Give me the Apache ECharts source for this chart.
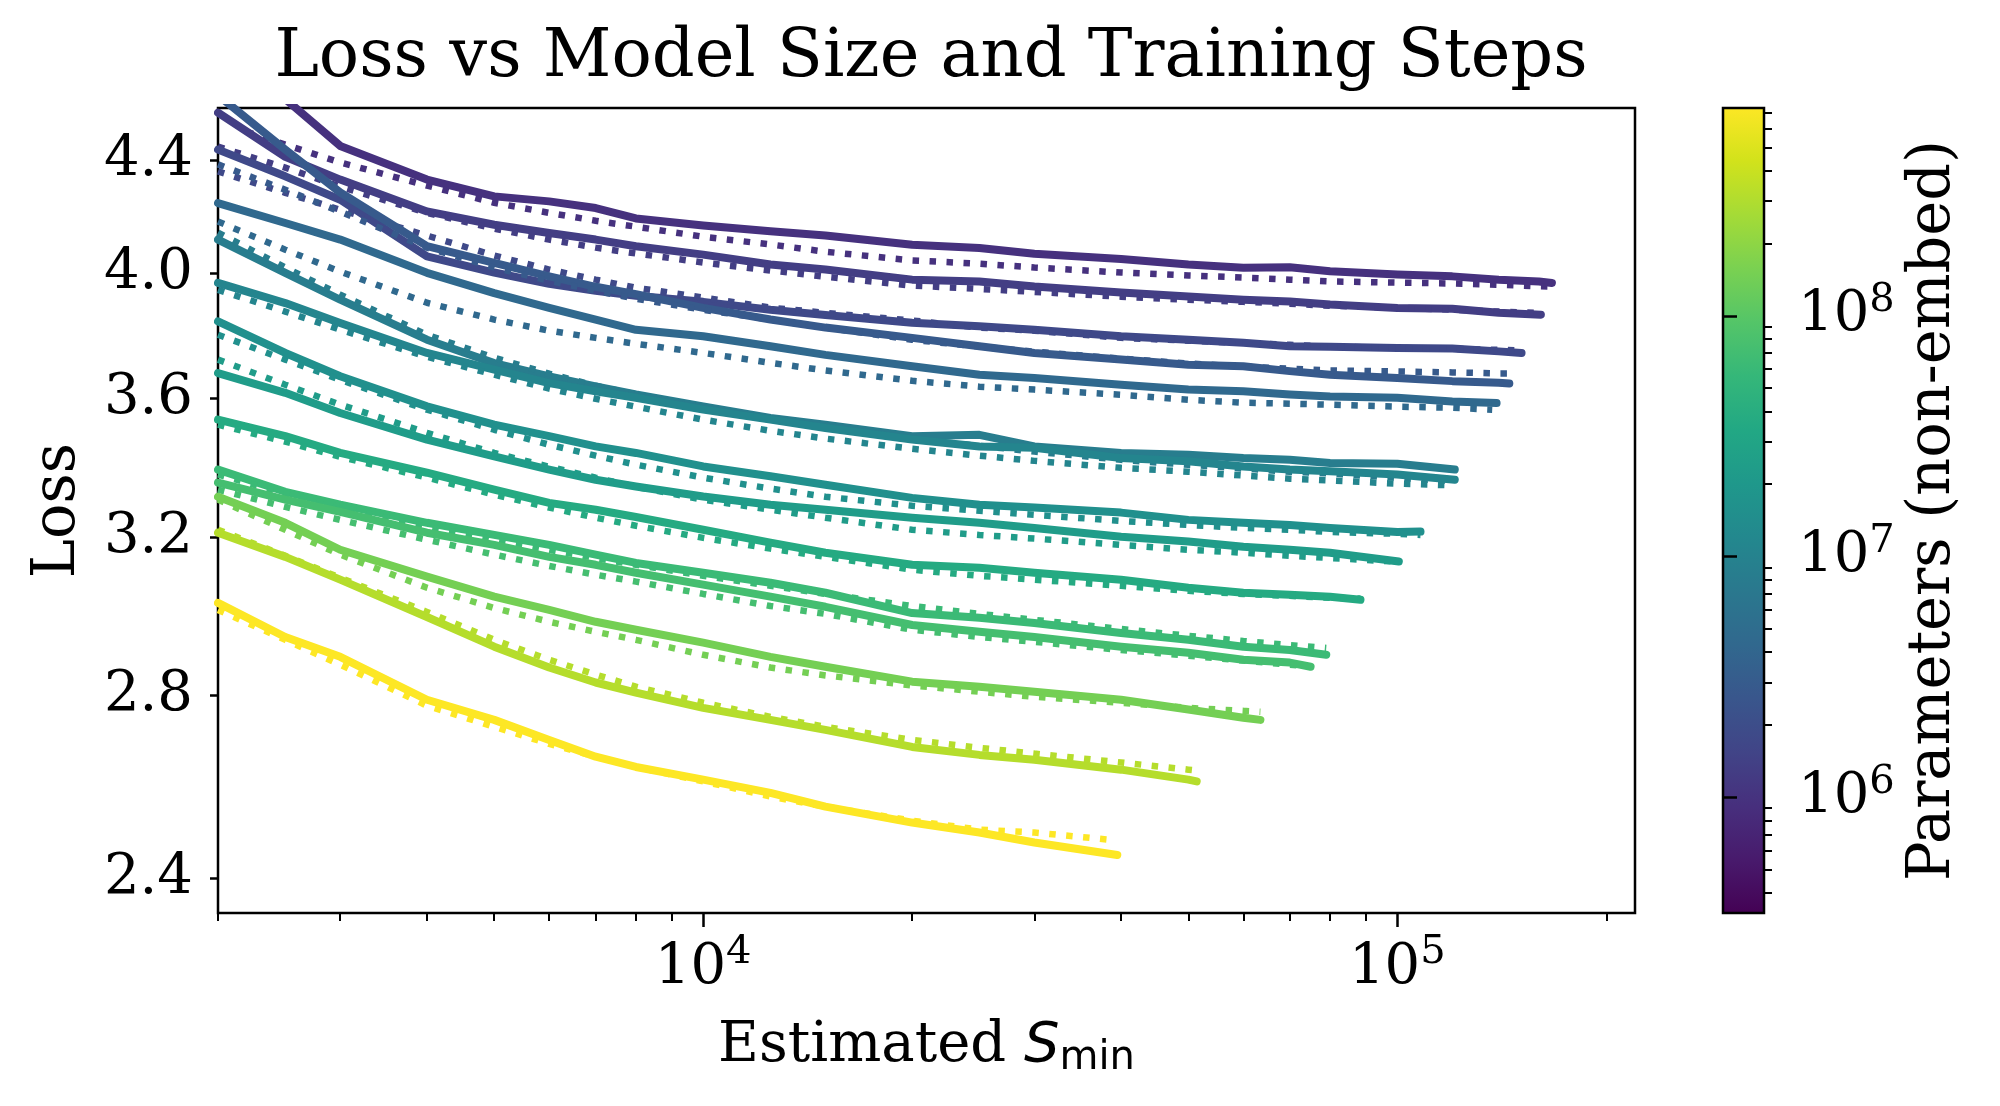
<!DOCTYPE html>
<html><head><meta charset="utf-8">
<script src="https://cdn.jsdelivr.net/npm/echarts@6/dist/echarts.min.js"></script>
<style>html,body{margin:0;padding:0;background:#fff}#c{width:2000px;height:1106px}</style>
</head><body><div id="c"></div>
<script>
// ---------------- data ----------------
const steps = [2000,2500,3000,4000,5000,6000,7000,8000,10000,12500,15000,20000,25000,30000,40000,50000,60000,70000,80000,100000,120000,140000,160000];
const params = [9.7e5,1.32e6,1.8e6,2.85e6,4.5e6,8.4e6,1.1e7,1.55e7,2.29e7,3.63e7,6.2e7,7.3e7,1.45e8,3.14e8,7.3e8];
const cbarRange = [3.3e5, 7.3e8];
const xMajor = [1e4, 1e5];
const xMinor = [2000,3000,4000,5000,6000,7000,8000,9000,20000,30000,40000,50000,60000,70000,80000,90000,200000];
const yTicks = [2.4, 2.8, 3.2, 3.6, 4.0, 4.4];
const cbMajor = [1e6, 1e7, 1e8];
const cbMinor = [4e5,5e5,6e5,7e5,8e5,9e5,2e6,3e6,4e6,5e6,6e6,7e6,8e6,9e6,2e7,3e7,4e7,5e7,6e7,7e7,8e7,9e7,2e8,3e8,4e8,5e8,6e8,7e8];

// observed loss curves (aligned with steps, null = no data)
const run01 = [null,4.635,4.455,4.330,4.269,4.251,4.227,4.190,4.165,4.145,4.130,4.098,4.087,4.067,4.049,4.030,4.019,4.021,4.007,3.996,3.990,3.979,3.973];
const run02 = [4.582,4.414,4.330,4.215,4.168,4.139,4.116,4.093,4.064,4.030,4.013,3.979,3.973,3.956,3.936,3.923,3.912,3.906,3.896,3.885,3.882,3.869,null];
const run03 = [4.441,4.342,4.257,4.058,4.003,3.965,3.942,3.925,3.905,3.879,3.862,3.837,3.825,3.814,3.793,3.782,3.772,3.761,3.760,3.756,3.754,3.745,null];
const run04 = [4.65,4.441,4.283,4.093,4.036,3.990,3.955,3.930,3.885,3.847,3.821,3.788,3.761,3.740,3.719,3.703,3.698,3.683,3.672,3.662,3.652,3.647,null];
const run05 = [4.245,4.174,4.116,4.002,3.934,3.885,3.847,3.814,3.793,3.761,3.734,3.698,3.672,3.662,3.641,3.626,3.621,3.611,3.605,3.601,3.590,null,null];
const run06 = [4.116,4.002,3.912,3.782,3.708,3.667,3.636,3.611,3.575,3.540,3.520,3.486,3.490,3.456,3.437,3.432,3.422,3.417,3.408,3.406,null,null,null];
const run07 = [3.968,3.901,3.836,3.740,3.688,3.646,3.621,3.601,3.565,3.535,3.510,3.476,3.456,3.452,3.422,3.413,3.398,3.389,3.384,3.375,null,null,null];
const run08 = [3.841,3.740,3.667,3.575,3.520,3.486,3.456,3.437,3.398,3.370,3.346,3.309,3.290,3.282,3.268,3.248,3.240,3.234,3.226,3.215,null,null,null];
const run09 = [3.677,3.616,3.555,3.476,3.427,3.389,3.360,3.341,3.313,3.290,3.276,3.254,3.240,3.226,3.202,3.189,3.175,3.167,3.159,null,null,null,null];
const run10 = [3.535,3.486,3.437,3.380,3.332,3.295,3.276,3.256,3.221,3.186,3.159,3.127,3.119,3.106,3.088,3.067,3.054,3.049,3.044,null,null,null,null];
const run11 = [3.389,3.326,3.290,3.240,3.207,3.180,3.154,3.132,3.106,3.080,3.054,3.002,2.990,2.977,2.952,2.935,2.918,2.910,null,null,null,null,null];
const run12 = [3.352,3.304,3.270,3.213,3.180,3.148,3.127,3.106,3.075,3.044,3.018,2.972,2.955,2.942,2.918,2.903,2.886,2.879,null,null,null,null,null];
const run13 = [3.312,3.240,3.167,3.096,3.044,3.010,2.980,2.960,2.928,2.893,2.869,2.833,2.821,2.809,2.790,2.767,2.748,null,null,null,null,null,null];
const run14 = [3.213,3.148,3.088,2.992,2.918,2.867,2.831,2.807,2.771,2.743,2.720,2.681,2.663,2.652,2.630,2.608,null,null,null,null,null,null,null];
const run15 = [3.028,2.942,2.893,2.790,2.743,2.697,2.659,2.636,2.608,2.579,2.549,2.515,2.494,2.473,null,null,null,null,null,null,null,null,null];
const runEnd = [[167000,3.968],[161000,3.863],[151000,3.740],[145000,3.645],[139000,3.585],[121000,3.389],[121000,3.360],[108000,3.216],[100500,3.136],[88500,3.036],[79000,2.898],[75000,2.869],[63500,2.743],[51400,2.604],[39500,2.447]];

// fitted curves (dotted)
const fit01 = [null,4.460,4.393,4.308,4.246,4.210,4.182,4.161,4.126,4.099,4.074,4.044,4.033,4.020,4.003,3.993,3.986,3.979,3.973,3.969,3.966,3.962,3.957];
const fit02 = [4.452,4.374,4.304,4.210,4.154,4.116,4.088,4.068,4.037,4.010,3.989,3.959,3.948,3.938,3.922,3.912,3.905,3.899,3.892,3.886,3.879,3.873,null];
const fit03 = [4.360,4.282,4.221,4.130,4.061,4.013,3.979,3.952,3.919,3.886,3.869,3.844,3.821,3.811,3.788,3.779,3.772,3.766,3.760,3.756,3.753,3.750,null];
const fit04 = [4.386,4.293,4.214,4.088,4.020,3.975,3.942,3.915,3.879,3.847,3.821,3.782,3.760,3.744,3.722,3.707,3.697,3.691,3.685,3.682,3.679,3.676,null];
const fit05 = [4.179,4.081,4.006,3.902,3.847,3.811,3.788,3.769,3.740,3.709,3.685,3.653,3.635,3.626,3.610,3.595,3.586,3.583,3.580,3.574,3.571,null,null];
const fit06 = [4.140,4.020,3.929,3.798,3.725,3.675,3.638,3.611,3.571,3.535,3.511,3.476,3.458,3.441,3.417,3.403,3.392,3.383,3.378,3.366,null,null,null];
const fit07 = [3.945,3.873,3.814,3.728,3.672,3.629,3.598,3.574,3.535,3.502,3.479,3.449,3.429,3.414,3.394,3.383,3.372,3.363,3.358,3.349,null,null,null];
const fit08 = [3.798,3.719,3.656,3.565,3.505,3.461,3.429,3.403,3.366,3.335,3.312,3.287,3.273,3.262,3.245,3.234,3.226,3.221,3.215,3.210,null,null,null];
const fit09 = [3.719,3.641,3.580,3.496,3.437,3.397,3.366,3.340,3.304,3.276,3.254,3.221,3.207,3.197,3.180,3.167,3.159,3.151,3.145,null,null,null,null];
const fit10 = [3.520,3.470,3.426,3.366,3.318,3.282,3.254,3.232,3.199,3.170,3.148,3.114,3.098,3.088,3.072,3.059,3.051,3.046,3.041,null,null,null,null];
const fit11 = [3.375,3.321,3.282,3.229,3.194,3.167,3.145,3.127,3.098,3.072,3.051,3.020,3.000,2.985,2.962,2.945,2.932,2.922,null,null,null,null,null];
const fit12 = [3.332,3.284,3.248,3.194,3.154,3.124,3.101,3.083,3.051,3.020,3.000,2.960,2.942,2.930,2.910,2.896,2.884,2.874,null,null,null,null,null];
const fit13 = [3.304,3.221,3.154,3.067,3.015,2.980,2.955,2.935,2.898,2.867,2.848,2.824,2.809,2.797,2.783,2.771,2.764,null,null,null,null,null,null];
const fit14 = [3.221,3.151,3.093,3.005,2.935,2.886,2.850,2.821,2.783,2.750,2.727,2.697,2.679,2.666,2.646,2.630,null,null,null,null,null,null,null];
const fit15 = [3.010,2.935,2.874,2.776,2.727,2.688,2.659,2.636,2.604,2.571,2.549,2.519,2.500,2.494,null,null,null,null,null,null,null,null,null];
const fitStart = [[2200,4.508],null,null,null,null,null,null,null,null,null,null,null,null,null,null];
const fitEnd = [[166000,3.956],[158000,3.869],[150000,3.748],[145000,3.676],[137000,3.565],[121000,3.355],[121000,3.344],[108000,3.207],[100500,3.135],[88500,3.039],[79000,2.915],[75000,2.869],[63500,2.762],[51400,2.628],[39000,2.478]];

// ---------------- style helpers ----------------
const VIR = ['#440154','#481a6c','#472f7d','#414487','#39568c','#31688e','#2a788e','#23888e','#1f988b','#22a884','#35b779','#54c568','#7ad151','#a5db36','#d2e21b','#fde725'];
function hx(h){return [parseInt(h.slice(1,3),16),parseInt(h.slice(3,5),16),parseInt(h.slice(5,7),16)];}
function viridis(t){
  t=Math.max(0,Math.min(1,t)); const n=VIR.length-1; const f=t*n; const i=Math.min(n-1,Math.floor(f)); const u=f-i;
  const a=hx(VIR[i]), b=hx(VIR[i+1]);
  return 'rgb('+a.map((v,k)=>Math.round(v+(b[k]-v)*u)).join(',')+')';
}
const lmin=Math.log10(cbarRange[0]), lmax=Math.log10(cbarRange[1]);
const colorOf = p => viridis((Math.log10(p)-lmin)/(lmax-lmin));

const runs=[run01,run02,run03,run04,run05,run06,run07,run08,run09,run10,run11,run12,run13,run14,run15];
const fits=[fit01,fit02,fit03,fit04,fit05,fit06,fit07,fit08,fit09,fit10,fit11,fit12,fit13,fit14,fit15];
function pts(arr,start,end){const r=[]; if(start) r.push(start); arr.forEach((v,j)=>{if(v!=null) r.push([steps[j],v]);}); if(end) r.push(end); return r;}

const series=[];
runs.forEach((r,i)=>{
  const col=colorOf(params[i]);
  series.push({type:'line',xAxisIndex:0,yAxisIndex:0,data:pts(r,null,runEnd[i]),showSymbol:false,silent:true,clip:true,z:2,
    lineStyle:{color:col,width:8,cap:'round',join:'round'}});
  series.push({type:'line',xAxisIndex:0,yAxisIndex:0,data:pts(fits[i],fitStart[i],fitEnd[i]),showSymbol:false,silent:true,clip:true,z:2,
    lineStyle:{color:col,width:6.5,type:[6.5,10.5],cap:'butt'}});
});

const FS='DejaVu Serif';
const powRich={b:{fontFamily:FS,fontSize:56,color:'#000',lineHeight:70},s:{fontFamily:FS,fontSize:40,color:'#000',verticalAlign:'top',lineHeight:40}};
const powFmt=v=>'{b|10}{s|'+Math.round(Math.log10(v))+'}';

const stops=VIR.map((c,i)=>({offset:i/(VIR.length-1),color:c}));

const option={
  animation:false,
  backgroundColor:'#fff',
  title:{text:'Loss vs Model Size and Training Steps',left:926,top:20,textAlign:'center',
    textStyle:{fontFamily:FS,fontSize:67,fontWeight:'normal',color:'#000'}},
  grid:[
    {left:218,top:108,width:1417,height:805,show:true,borderColor:'#000',borderWidth:2.5,backgroundColor:'transparent'},
    {left:1723,top:108,width:41,height:805,show:true,borderColor:'#000',borderWidth:2.5,
     backgroundColor:new echarts.graphic.LinearGradient(0,1,0,0,stops)}
  ],
  xAxis:[
    {gridIndex:0,type:'log',logBase:10,min:2000,max:220000,position:'bottom',
     axisLine:{show:false},splitLine:{show:false},
     axisTick:{show:true,length:14,customValues:xMajor,lineStyle:{color:'#000',width:2.5}},
     axisLabel:{customValues:xMajor,formatter:powFmt,rich:powRich,margin:20},
     name:'{a|Estimated }{i|S}{sub|min}',nameLocation:'middle',nameGap:100,
     nameTextStyle:{rich:{a:{fontFamily:FS,fontSize:56,color:'#000',lineHeight:66},
       i:{fontFamily:'DejaVu Sans',fontStyle:'italic',fontSize:56,color:'#000',lineHeight:66},
       sub:{fontFamily:'DejaVu Sans',fontSize:40,color:'#000',verticalAlign:'bottom',lineHeight:36}}}},
    {gridIndex:0,type:'log',logBase:10,min:2000,max:220000,position:'bottom',
     axisLine:{show:false},splitLine:{show:false},
     axisTick:{show:true,length:8,customValues:xMinor,lineStyle:{color:'#000',width:2}},
     axisLabel:{show:false}},
    {gridIndex:1,type:'value',min:0,max:1,show:false}
  ],
  yAxis:[
    {gridIndex:0,type:'log',logBase:10,min:2.33,max:4.6,position:'left',
     axisLine:{show:false},splitLine:{show:false},
     axisTick:{show:true,length:8,customValues:yTicks,lineStyle:{color:'#000',width:2.5}},
     axisLabel:{customValues:yTicks,formatter:v=>Number(v).toFixed(1),fontFamily:FS,fontSize:56,color:'#000',margin:25},
     name:'Loss',nameLocation:'middle',nameGap:130,nameRotate:90,
     nameTextStyle:{fontFamily:FS,fontSize:59,color:'#000'}},
    {gridIndex:1,type:'log',logBase:10,min:cbarRange[0],max:cbarRange[1],position:'right',
     axisLine:{show:false},splitLine:{show:false},
     axisTick:{show:true,length:14,customValues:cbMajor,lineStyle:{color:'#000',width:2.5}},
     axisLabel:{customValues:cbMajor,formatter:powFmt,rich:powRich,margin:34},
     name:'Parameters (non-embed)',nameLocation:'middle',nameGap:140,nameRotate:90,
     nameTextStyle:{fontFamily:FS,fontSize:59,color:'#000'}},
    {gridIndex:1,type:'log',logBase:10,min:cbarRange[0],max:cbarRange[1],position:'right',
     axisLine:{show:false},splitLine:{show:false},
     axisTick:{show:true,length:8,customValues:cbMinor,lineStyle:{color:'#000',width:2}},
     axisLabel:{show:false}}
  ],
  series:series
};
const chart=echarts.init(document.getElementById('c'),null,{renderer:'canvas'});
chart.setOption(option);
</script></body></html>
